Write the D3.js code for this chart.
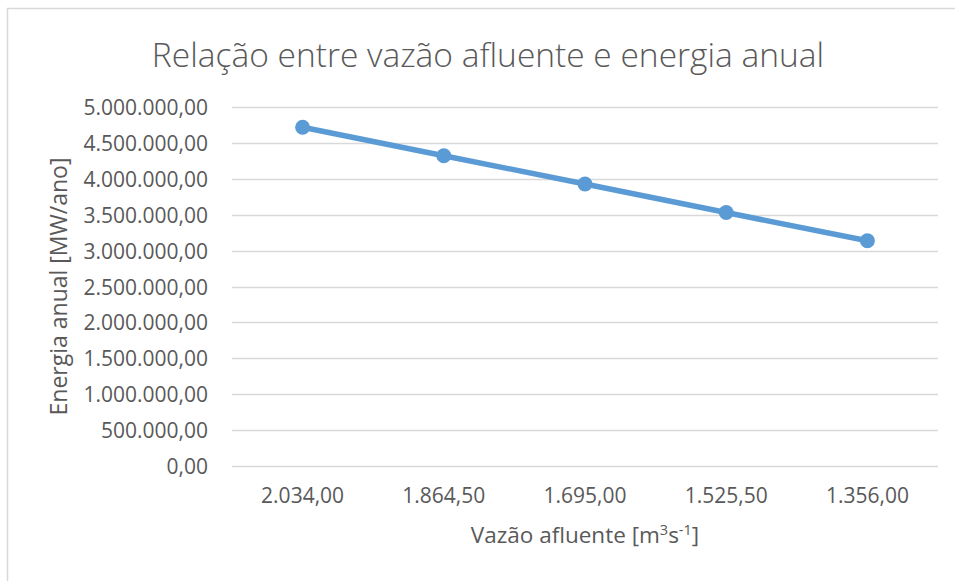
<!DOCTYPE html>
<html>
<head>
<meta charset="utf-8">
<script src="https://cdn.jsdelivr.net/npm/d3@7"></script>
<style>
  body { margin: 0; background: #fff; }
  text { font-family: "Open Sans", sans-serif; fill: #595959; }
</style>
</head>
<body>
<svg width="955" height="581"></svg>
<script>
// data
const categories = ["2.034,00", "1.864,50", "1.695,00", "1.525,50", "1.356,00"];
const energy = [4717000, 4322000, 3928000, 3530000, 3138000];
const yTicks = [0, 500000, 1000000, 1500000, 2000000, 2500000, 3000000, 3500000, 4000000, 4500000, 5000000];

const svg = d3.select('svg');
const margin = {"left": 232, "right": 17, "top": 107, "bottom": 115};
const width = +svg.attr('width') - margin.left - margin.right;
const height = +svg.attr('height') - margin.top - margin.bottom;

const ptBR = d3.formatLocale({"decimal": ",", "thousands": ".", "grouping": [3], "currency": ["R$", ""]});
const fmt = ptBR.format(",.2f");

// chart area border (only top and left inside the window)
svg.append("rect")
  .attr("x", 7.5).attr("y", 8.5)
  .attr("width", 960).attr("height", 590)
  .attr("fill", "none")
  .attr("stroke", "#d9d9d9")
  .attr("stroke-width", 1.5);

const g = svg.append("g")
  .attr("transform", "translate(" + margin.left + "," + margin.top + ")");

const xScale = d3.scaleBand()
  .domain(categories)
  .range([0, width]);

const yScale = d3.scaleLinear()
  .domain([0, 5000000])
  .range([height, 0]);

// gridlines
g.append("g")
  .selectAll("line")
  .data(yTicks)
  .enter()
  .append("line")
  .attr("x1", 0).attr("x2", width)
  .attr("y1", d => Math.round(yScale(d)) + 0.5)
  .attr("y2", d => Math.round(yScale(d)) + 0.5)
  .attr("stroke", "#d9d9d9")
  .attr("stroke-width", 1.3);

// y axis
const yAxis = g.append("g")
  .call(d3.axisLeft(yScale).tickValues(yTicks).tickFormat(fmt).tickSize(0).tickPadding(24));
yAxis.select(".domain").remove();
yAxis.selectAll("text")
  .style("font-size", "21px")
  .attr("fill", "#595959")
  .attr("dy", "0.36em");

// x axis
const xAxis = g.append("g")
  .attr("transform", "translate(0," + height + ")")
  .call(d3.axisBottom(xScale).tickSize(0).tickPadding(22));
xAxis.select(".domain").remove();
xAxis.selectAll("text")
  .style("font-size", "21px")
  .attr("fill", "#595959");

// line + markers
const xPos = (d, i) => xScale(categories[i]) + xScale.bandwidth() / 2;
const line = d3.line()
  .x((d, i) => xPos(d, i))
  .y(d => yScale(d));

g.append("path")
  .datum(energy)
  .attr("d", line)
  .attr("fill", "none")
  .attr("stroke", "#5b9bd5")
  .attr("stroke-width", 5.5)
  .attr("stroke-linecap", "round");

g.append("g")
  .selectAll("circle")
  .data(energy)
  .enter()
  .append("circle")
  .attr("cx", (d, i) => xPos(d, i))
  .attr("cy", d => yScale(d))
  .attr("r", 7.5)
  .attr("fill", "#5b9bd5");

// title
svg.append("text")
  .attr("x", 488)
  .attr("y", 67)
  .attr("text-anchor", "middle")
  .style("font-size", "33.5px")
  .style("font-weight", 300)
  .text("Relação entre vazão afluente e energia anual");

// x label
const xl = svg.append("text")
  .attr("x", margin.left + width / 2)
  .attr("y", 543)
  .attr("text-anchor", "middle")
  .style("font-size", "22.5px");
xl.append("tspan").text("Vazão afluente [m");
xl.append("tspan").attr("dy", -8).style("font-size", "14.5px").text("3");
xl.append("tspan").attr("dy", 8).text("s");
xl.append("tspan").attr("dy", -8).style("font-size", "14.5px").text("-1");
xl.append("tspan").attr("dy", 8).text("]");

// y label
svg.append("text")
  .attr("transform", "translate(67," + (margin.top + height / 2) + ") rotate(-90)")
  .attr("text-anchor", "middle")
  .style("font-size", "23px")
  .text("Energia anual [MW/ano]");
</script>
</body>
</html>
